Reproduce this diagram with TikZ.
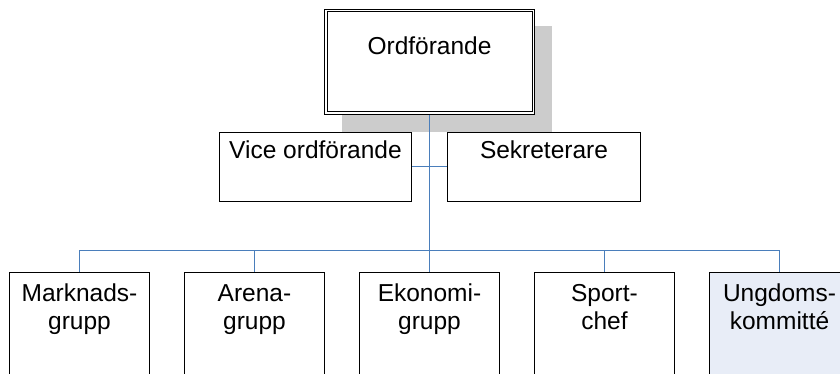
\documentclass[tikz,border=0pt]{standalone}
\usepackage{fontspec}
\setmainfont{Liberation Sans}
\usetikzlibrary{positioning,shadows}
\definecolor{linkblue}{RGB}{74,126,187}
\definecolor{shadowgray}{RGB}{204,204,204}
\definecolor{ungdomblue}{RGB}{232,237,247}
\newcommand{\boxw}{140pt}
\tikzset{
    boxsty/.style={draw,fill=white,rectangle,line width=1pt,inner ysep=0pt,inner xsep=4pt,
        align=center,anchor=north,font=\fontsize{24.5}{28}\selectfont},
    topsty/.style={boxsty,double,double distance=1.5pt,minimum width=207.5pt,
        text height=44.25pt,text depth=58.25pt,
        drop shadow={shadow xshift=17.5pt,shadow yshift=-17pt,fill=shadowgray,
            draw=shadowgray,line width=3pt,opacity=1}},
    midsty/.style={boxsty,minimum width=192.5pt,text height=26.5pt,text depth=42.5pt},
    lowsty/.style={boxsty,minimum width=\boxw,text height=56.5pt,text depth=80pt},
    hlsty/.style={fill=ungdomblue},
    linksty/.style={draw=linkblue,line width=1pt},
}

\begin{document}
\begin{tikzpicture}[x=1pt,y=-1pt]
\useasboundingbox (0,0) rectangle (840,374);
\node[topsty] (chair) at (429.5,10.25) {Ordförande};
\node[midsty] (vice) at (315.5,132) {Vice ordförande};
\node[midsty] (sekr) at (544,132) {Sekreterare};
\node[lowsty] (ekon) at (429.5,272) {Ekonomi-\\grupp};
\node[lowsty,left=34pt of ekon] (arena) {Arena-\\grupp};
\node[lowsty,left=34pt of arena] (mark) {Marknads-\\grupp};
\node[lowsty,right=34pt of ekon] (sport) {Sport-\\chef};
\node[lowsty,hlsty,right=34pt of sport] (ungd) {Ungdoms-\\kommitté};

\coordinate (bus) at (429.5,250.5);
\draw[linksty] (vice.east) -- (sekr.west);
\draw[linksty,shorten <=1.25pt] (chair.south) -- (bus);
\foreach \n in {mark,arena,ekon,sport,ungd}
  \draw[linksty] (bus) -| (\n.north);
\end{tikzpicture}
\end{document}
